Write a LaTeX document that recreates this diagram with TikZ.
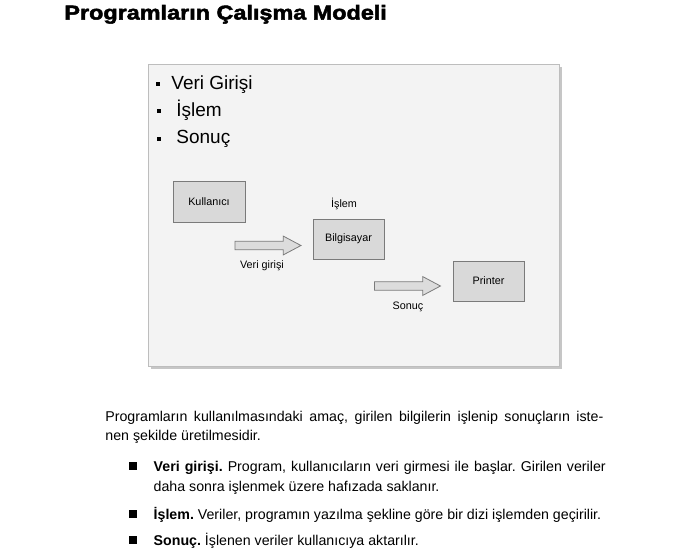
\documentclass[tikz,border=0pt]{standalone}
\usepackage{xcolor}
\usepackage{fontspec}
\setmainfont{Liberation Sans}
\newfontfamily\titlefont{Liberation Sans}[FakeStretch=1.17,BoldFeatures={FakeBold=2.5}]
\usetikzlibrary{shapes.arrows}
\frenchspacing

\definecolor{slidefill}{HTML}{F3F3F3}
\definecolor{slideline}{HTML}{BDBDBD}
\definecolor{slideshadow}{HTML}{C6C6C6}
\definecolor{boxfill}{HTML}{D9D9D9}
\definecolor{boxline}{HTML}{7A7A7A}
\definecolor{arrowfill}{HTML}{DCDCDC}

\begin{document}
\begin{tikzpicture}[x=1pt, y=-1pt, line width=0.8pt,
    box/.style={draw=boxline, fill=boxfill, minimum width=71pt, minimum height=40pt, inner sep=0pt, font=\fontsize{10.8}{13}\selectfont},
    blockarrow/.style={single arrow, draw=boxline, fill=arrowfill, minimum height=66pt, minimum width=18pt, inner sep=3.8pt, single arrow head extend=5.2pt, single arrow tip angle=56},
    small/.style={inner sep=0pt, font=\fontsize{10.8}{13}\selectfont},
    big/.style={inner sep=0pt, anchor=base west, font=\fontsize{19}{22}\selectfont},
    sqdot/.style={fill=black, inner sep=0pt, minimum size=#1},
    body/.style={inner sep=0pt, anchor=base west, align=justify, font=\fontsize{14.2}{19}\selectfont}]
    \useasboundingbox (0,0) rectangle (700,557);
    \node[inner sep=0pt, anchor=base west, font=\titlefont\bfseries\fontsize{20}{24}\selectfont] (title) at (64,19.5) {Programların Çalışma Modeli};
    \fill[slideshadow] (151,67) rectangle (562,369);
    \draw[slideline, fill=slidefill] (148,64) rectangle (559,366);
    \node[sqdot=4.5pt] (d1) at (158,84) {};
    \node[sqdot=4.5pt] (d2) at (159,111) {};
    \node[sqdot=4.5pt] (d3) at (159,139) {};
    \node[big] (veri) at (171,89) {Veri Girişi};
    \node[big] (islem) at (176,116) {İşlem};
    \node[big] (sonuc) at (176,143) {Sonuç};
    \node[box, minimum width=72pt, minimum height=41pt] (kullanici) at (209,201.5) {Kullanıcı};
    \node[box] (bilgisayar) at (348.5,239) {Bilgisayar};
    \node[box] (printer) at (488.5,281) {Printer};
    \node[small] (islemlabel) at (344,204) {İşlem};
    \node[blockarrow] (girisarrow) at (264,245.5) {};
    \node[blockarrow] (sonucarrow) at (403.5,286) {};
    \node[small] (girislabel) at (262,266) {Veri girişi};
    \node[small] (sonuclabel) at (408,307) {Sonuç};
    \node[body, text width=498pt] (para) at (105,421) {Programların kullanılmasındaki amaç, girilen bilgilerin işlenip sonuçların iste-\linebreak nen şekilde üretilmesidir.};
    \node[sqdot=8pt] (b1) at (133,466) {};
    \node[sqdot=8pt] (b2) at (133,513.5) {};
    \node[sqdot=8pt] (b3) at (133,539.5) {};
    \node[body, text width=452pt, font=\fontsize{14.2}{20}\selectfont] (item1) at (153.3,471.7) {\textbf{Veri girişi.} Program, kullanıcıların veri girmesi ile başlar. Girilen veriler\linebreak daha sonra işlenmek üzere hafızada saklanır.};
    \node[body, text width=452pt] (item2) at (153.3,519) {\textbf{İşlem.} Veriler, programın yazılma şekline göre bir dizi işlemden geçirilir.};
    \node[body, text width=452pt] (item3) at (153.3,545) {\textbf{Sonuç.} İşlenen veriler kullanıcıya aktarılır.};
\end{tikzpicture}
\end{document}
